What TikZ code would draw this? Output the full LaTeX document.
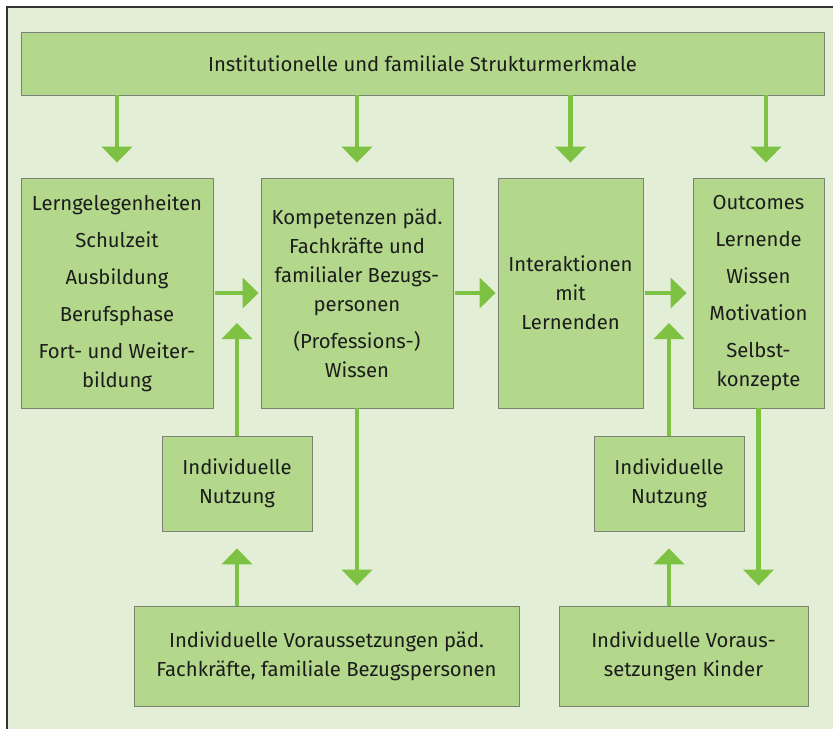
\documentclass[tikz,border=0pt]{standalone}
\usepackage{fontspec}
\setmainfont{Fira Sans}
\usetikzlibrary{arrows.meta}
\definecolor{framebg}{HTML}{E2EED6}
\definecolor{boxfill}{HTML}{B3D78B}
\definecolor{boxline}{HTML}{7B8174}
\definecolor{arrowgreen}{HTML}{7DC242}
\definecolor{textdark}{HTML}{1C1C1C}

\begin{document}
\begin{tikzpicture}[x=0.03cm,y=-0.03cm,
  box/.style={draw=boxline,fill=boxfill,line width=0.7pt,align=center,inner sep=0pt,
    text=textdark,font=\fontsize{17.3}{24.7}\selectfont},
  flow/.style={draw=arrowgreen,line width=4.2pt,-{Triangle[width=0.9cm,length=0.48cm]}},
  link/.style={flow,shorten <=0.06cm,shorten >=0.06cm}]
\path[use as bounding box] (0,0) rectangle (833,729);
\begin{scope}
\clip (0,0) rectangle (833,729);
\draw[fill=framebg,draw=black!80,line width=1.1pt] (7,7) rectangle (860,760);
\end{scope}
\node[box,minimum width=24.09cm,minimum height=1.89cm] (inst) at (422.5,63.5) {Institutionelle und familiale Strukturmerkmale};
\node[box,minimum width=5.76cm,minimum height=6.9cm] (lern) at (117,293) {Lerngelegenheiten\\[0.24cm]Schulzeit\\[0.24cm]Ausbildung\\[0.24cm]Berufsphase\\[0.24cm]Fort- und Weiter-\\bildung};
\node[box,minimum width=5.76cm,minimum height=6.9cm] (komp) at (357,293) {Kompetenzen päd.\\Fachkräfte und\\familialer Bezugs-\\personen\\[0.24cm](Professions-)\\Wissen};
\node[box,minimum width=4.35cm,minimum height=6.9cm] (inter) at (570.5,293) {Interaktionen\\mit\\Lernenden};
\node[box,minimum width=3.93cm,minimum height=6.9cm] (outc) at (758.5,293) {Outcomes\\[0.24cm]Lernende\\[0.24cm]Wissen\\[0.24cm]Motivation\\[0.24cm]Selbst-\\konzepte};
\node[box,minimum width=4.5cm,minimum height=2.85cm] (nutzL) at (237,483.5) {Individuelle\\Nutzung};
\node[box,minimum width=4.5cm,minimum height=2.85cm] (nutzR) at (669,483.5) {Individuelle\\Nutzung};
\node[box,minimum width=11.55cm,minimum height=3cm] (vorL) at (326.5,656) {Individuelle Voraussetzungen päd.\\Fachkräfte, familiale Bezugspersonen};
\node[box,minimum width=7.47cm,minimum height=3cm] (vorR) at (683.5,656) {Individuelle Voraus-\\setzungen Kinder};
\coordinate (inL) at (237,323);
\coordinate (inR) at (669,323);
\coordinate (outTop) at ([xshift=0.225cm]outc.north);
\draw[flow,shorten >=0.45cm] (inst.south -| lern) -- (lern.north);
\draw[flow,shorten >=0.45cm] (inst.south -| komp) -- (komp.north);
\draw[flow,shorten >=0.45cm] (inst.south -| inter) -- (inter.north);
\draw[flow,shorten >=0.45cm] (inst.south -| outTop) -- (outTop);
\draw[link] (lern.east) -- (komp.west);
\draw[link] (komp.east) -- (inter.west);
\draw[link,shorten >=0.18cm] (inter.east) -- (outc.west);
\draw[flow] (nutzL.north) -- (inL);
\draw[flow] (nutzR.north) -- (inR);
\draw[flow,shorten >=0.51cm] (vorL.north -| nutzL) -- (nutzL.south);
\draw[flow,shorten >=0.51cm] (vorR.north -| nutzR) -- (nutzR.south);
\draw[flow,shorten >=0.6cm] (komp.south) -- (komp.south |- vorL.north);
\draw[flow,shorten >=0.6cm] (outc.south) -- (outc.south |- vorR.north);
\end{tikzpicture}
\end{document}
